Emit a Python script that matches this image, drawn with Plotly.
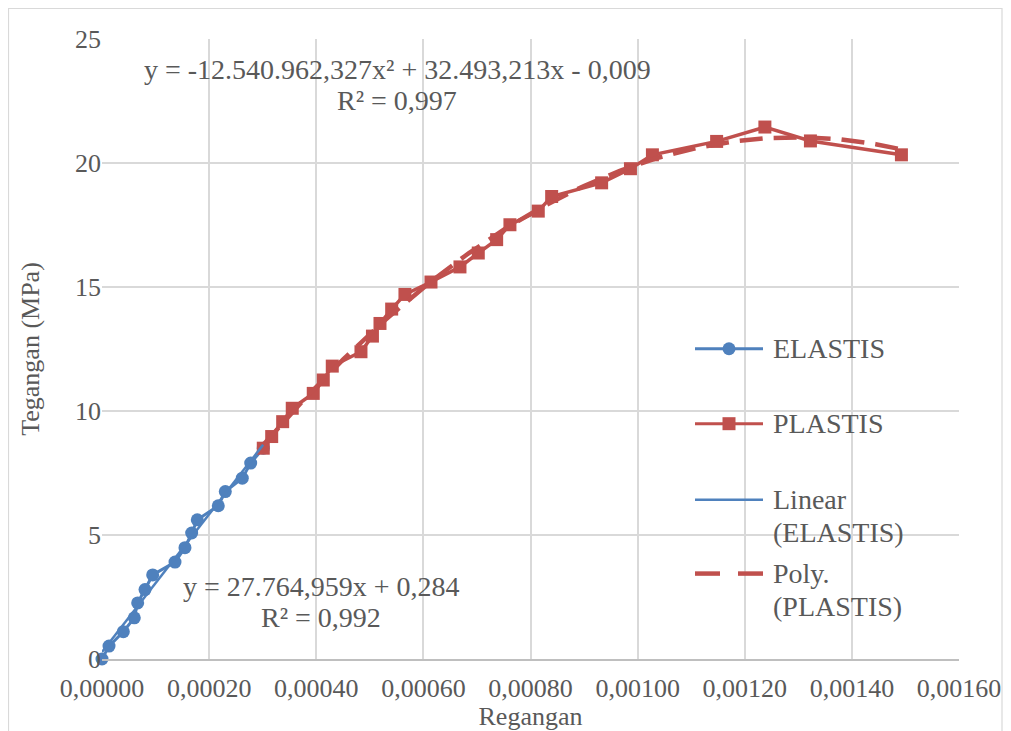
import numpy as np
import plotly.graph_objects as go

# ---------------- data ----------------
elastis_x = [0.0, 0.0000131, 0.0000398, 0.0000603, 0.0000666, 0.0000803, 0.0000946,
             0.0001363, 0.0001549, 0.0001674, 0.0001779, 0.0002171, 0.0002302,
             0.0002619, 0.0002776, 0.0003011]
elastis_y = [0.0, 0.52, 1.10, 1.66, 2.26, 2.80, 3.39, 3.91, 4.49, 5.08, 5.61, 6.18,
             6.75, 7.29, 7.90, 8.50]

plastis_x = [0.0003011, 0.0003168, 0.0003373, 0.0003552, 0.0003944, 0.0004131, 0.0004299,
             0.0004835, 0.0005049, 0.0005190, 0.0005408, 0.0005656, 0.0006142, 0.0006683,
             0.0007025, 0.0007368, 0.0007616, 0.0008145, 0.0008395, 0.0009328, 0.0009866,
             0.0010276, 0.0011475, 0.0012376, 0.0013226, 0.0014925]
plastis_y = [8.50, 8.97, 9.57, 10.11, 10.71, 11.25, 11.81, 12.39, 13.02, 13.53, 14.11,
             14.70, 15.20, 15.81, 16.37, 16.91, 17.51, 18.06, 18.65, 19.20, 19.77, 20.33,
             20.87, 21.45, 20.89, 20.33]

# trendline coefficients as printed on the chart
linear_coef = [27764.959, 0.284]
poly_coef = [-12540962.327, 32493.213, -0.009]

x_ticks = [0, 0.0002, 0.0004, 0.0006, 0.0008, 0.0010, 0.0012, 0.0014, 0.0016]
y_ticks = [0, 5, 10, 15, 20, 25]

series_names = [["ELASTIS"], ["PLASTIS"], ["Linear", "(ELASTIS)"], ["Poly.", "(PLASTIS)"]]
eq_poly = ["y = -12.540.962,327x² + 32.493,213x - 0,009", "R² = 0,997"]
eq_lin = ["y = 27.764,959x + 0,284", "R² = 0,992"]

# ---------------- style ----------------
BLUE = "#4F81BD"
RED = "#C0504D"
TXT = "#595959"
GRID = "#D9D9D9"
FONT = "Liberation Serif"
OFF = 8  # page body margin
W, H = 995, 723
L, R, T, B = 94, 44, 31, 71.5


def px(xp):
    """page x pixel -> paper x"""
    return (xp - OFF - L) / (W - L - R)


def py(yp):
    """page y pixel -> paper y"""
    return (H - B - (yp - OFF)) / (H - T - B)


fig = go.Figure()

fig.add_trace(go.Scatter(x=elastis_x, y=elastis_y, mode="lines+markers", name="ELASTIS",
                         line=dict(color=BLUE, width=3),
                         marker=dict(symbol="circle", size=13, color=BLUE),
                         cliponaxis=False, showlegend=False))
fig.add_trace(go.Scatter(x=plastis_x, y=plastis_y, mode="lines+markers", name="PLASTIS",
                         line=dict(color=RED, width=3.5),
                         marker=dict(symbol="square", size=13, color=RED),
                         cliponaxis=False, showlegend=False))

lx = np.linspace(min(elastis_x), max(elastis_x), 50)
fig.add_trace(go.Scatter(x=lx, y=np.polyval(linear_coef, lx), mode="lines",
                         name="Linear (ELASTIS)", line=dict(color=BLUE, width=2.5),
                         cliponaxis=False, showlegend=False))
qx = np.linspace(min(plastis_x), max(plastis_x), 200)
fig.add_trace(go.Scatter(x=qx, y=np.polyval(poly_coef, qx), mode="lines",
                         name="Poly. (PLASTIS)",
                         line=dict(color=RED, width=4.5, dash="23px,11px"),
                         cliponaxis=False, showlegend=False))

# ---------------- custom legend (Excel style) ----------------
shapes = []
annotations = []
leg_rows = [349, 424, 500, 574]
line_gap = 33
lx0, lx1, ltext = 695, 763, 771
for i, (lines, yy) in enumerate(zip(series_names, leg_rows)):
    color = BLUE if i in (0, 2) else RED
    if i == 3:
        for a, b in [(695, 720), (738, 763)]:
            shapes.append(dict(type="line", xref="paper", yref="paper",
                               x0=px(a), x1=px(b), y0=py(yy), y1=py(yy),
                               line=dict(color=color, width=4.5)))
    else:
        shapes.append(dict(type="line", xref="paper", yref="paper",
                           x0=px(lx0), x1=px(lx1), y0=py(yy), y1=py(yy),
                           line=dict(color=color, width=3 if i < 2 else 2.5)))
    if i == 0:
        shapes.append(dict(type="circle", xref="paper", yref="paper",
                           xsizemode="pixel", ysizemode="pixel",
                           xanchor=px(729), yanchor=py(yy),
                           x0=-6.5, x1=6.5, y0=-6.5, y1=6.5,
                           fillcolor=color, line=dict(color=color, width=0)))
    if i == 1:
        shapes.append(dict(type="rect", xref="paper", yref="paper",
                           xsizemode="pixel", ysizemode="pixel",
                           xanchor=px(729), yanchor=py(yy),
                           x0=-6.5, x1=6.5, y0=-6.5, y1=6.5,
                           fillcolor=color, line=dict(color=color, width=0)))
    for k, ln in enumerate(lines):
        annotations.append(dict(xref="paper", yref="paper", x=px(ltext),
                                y=py(yy + k * line_gap), xanchor="left", yanchor="middle",
                                align="left", text=ln, showarrow=False,
                                font=dict(family=FONT, size=28, color=TXT)))

# equations
for txt, (cx, cy) in zip(eq_poly + eq_lin, [(397, 70), (397, 101), (321, 587), (321, 618)]):
    annotations.append(dict(xref="paper", yref="paper", x=px(cx), y=py(cy),
                            xanchor="center", yanchor="middle", text=txt,
                            showarrow=False, font=dict(family=FONT, size=28, color=TXT)))

# chart border
shapes.append(dict(type="rect", xref="paper", yref="paper",
                   x0=px(8.5), x1=px(1002), y0=py(8.5), y1=py(740),
                   line=dict(color=GRID, width=1.2), fillcolor="rgba(0,0,0,0)", layer="below"))

fig.update_layout(
    width=W, height=H,
    margin=dict(l=L, r=R, t=T, b=B, autoexpand=False),
    paper_bgcolor="white", plot_bgcolor="white",
    separators=",.",
    font=dict(family=FONT, size=26, color=TXT),
    showlegend=False,
    shapes=shapes,
    annotations=annotations,
    xaxis=dict(range=[0, 0.0016], tickvals=x_ticks, tickformat=".5f",
               showgrid=True, gridcolor=GRID, gridwidth=1.5,
               zeroline=False, showline=True, linecolor="#BFBFBF", linewidth=1.5,
               ticks="", ticklabelstandoff=5,
               tickfont=dict(family=FONT, size=26, color=TXT),
               title=dict(text="Regangan", standoff=0,
                          font=dict(family=FONT, size=26, color=TXT))),
    yaxis=dict(range=[0, 25], tickvals=y_ticks,
               showgrid=True, gridcolor=GRID, gridwidth=1.5,
               zeroline=False, showline=False,
               ticks="", tickfont=dict(family=FONT, size=26, color=TXT),
               title=dict(text="Tegangan (MPa)", standoff=27,
                          font=dict(family=FONT, size=26, color=TXT))),
)

fig.write_html("out.html")
